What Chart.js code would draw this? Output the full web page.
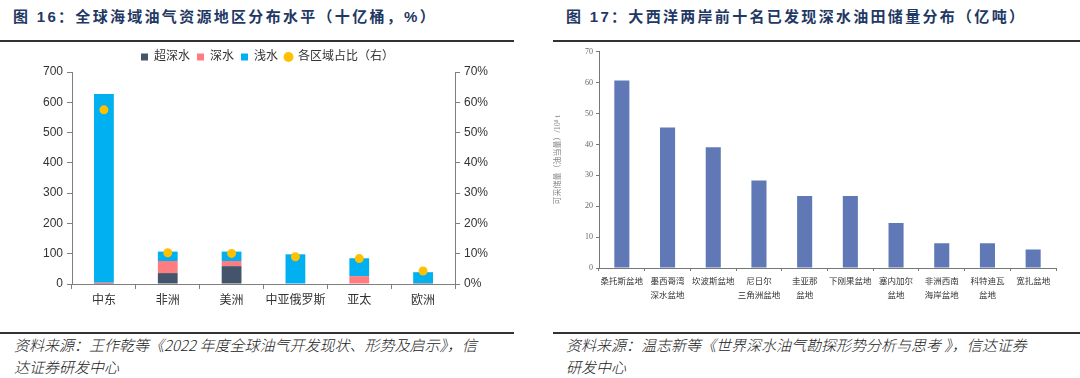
<!DOCTYPE html>
<html>
<head>
<meta charset="utf-8">
<script src="https://cdn.jsdelivr.net/npm/chart.js@4.4.1/dist/chart.umd.min.js"></script>
<style>
  html, body { margin: 0; padding: 0; background: #fff; }
  body { width: 1080px; height: 378px; position: relative; overflow: hidden;
         font-family: "Liberation Sans", "Noto Sans CJK SC", sans-serif; }
  .title { position: absolute; top: 6px; font-size: 15px; font-weight: bold; color: #1F3864;
           letter-spacing: 2.3px; white-space: nowrap; line-height: 22px; }
  .rule { position: absolute; height: 2px; background: #333; }
  .src { position: absolute; font-size: 15px; font-style: italic; color: #222; line-height: 22px;
         white-space: nowrap; font-family: "Noto Sans CJK SC", "Liberation Sans", sans-serif; font-weight: 300; }
  canvas { position: absolute; }
</style>
</head>
<body>
<div class="title" style="left:13px;">图 16：全球海域油气资源地区分布水平（十亿桶，%）</div>
<div class="title" style="left:566px;">图 17：大西洋两岸前十名已发现深水油田储量分布（亿吨）</div>
<div class="rule" style="left:0; width:514px; top:40px;"></div>
<div class="rule" style="left:553px; width:527px; top:40px;"></div>
<div class="rule" style="left:0; width:514px; top:332px;"></div>
<div class="rule" style="left:553px; width:527px; top:332px;"></div>
<div class="src" style="left:14px; top:334px;">资料来源：王作乾等《2022 年度全球油气开发现状、形势及启示》，信</div>
<div class="src" style="left:14px; top:356px;">达证券研发中心</div>
<div class="src" style="left:566px; top:334px;">资料来源：温志新等《世界深水油气勘探形势分析与思考 》，信达证券</div>
<div class="src" style="left:566px; top:356px;">研发中心</div>

<canvas id="c1" width="515" height="266" style="left:0; top:44px;"></canvas>
<canvas id="c2" width="527" height="262" style="left:553px; top:44px;"></canvas>

<script>
// ---- Figure 16 data ----
const regions = ['中东', '非洲', '美洲', '中亚俄罗斯', '亚太', '欧洲'];
const ultraDeep = [4, 36, 59, 0, 0, 3];
const deepWater = [2, 40, 17, 0, 26, 0];
const shallowWater = [621, 31, 31, 98, 59, 36];
const regionShare = [57.5, 10.3, 10.1, 9.0, 8.4, 4.3];
const leftTicks = [0, 100, 200, 300, 400, 500, 600, 700];
const rightTicks = [0, 10, 20, 30, 40, 50, 60, 70];

// ---- Figure 17 data ----
const basins = [
  '桑托斯盆地', ['墨西哥湾', '深水盆地'], '坎波斯盆地', ['尼日尔', '三角洲盆地'], ['圭亚那', '盆地'],
  '下刚果盆地', ['塞内加尔', '盆地'], ['非洲西南', '海岸盆地'], ['科特迪瓦', '盆地'], '宽扎盆地'
];
const reserves = [60.7, 45.5, 39.1, 28.3, 23.3, 23.3, 14.6, 8.0, 8.0, 6.0];

const SANS = '"Liberation Sans", "Noto Sans CJK SC", sans-serif';
const SERIF = '"Liberation Serif", "Noto Sans CJK SC", serif';

const legendTweak = {
  id: 'legendTweak',
  beforeInit(chart) {
    if (!chart.legend) return;
    const origFit = chart.legend.fit;
    chart.legend.fit = function () { origFit.call(this); this.height = 28; };
    const origDraw = chart.legend.draw;
    chart.legend.draw = function () {
      const c = this.ctx; c.save(); c.translate(10, 0); origDraw.call(this); c.restore();
    };
  }
};

new Chart(document.getElementById('c1'), {
  data: {
    labels: regions,
    datasets: [
      { type: 'bar', label: '超深水', data: ultraDeep, backgroundColor: '#44546A', stack: 's',
        pointStyle: 'rect', order: 1 },
      { type: 'bar', label: '深水', data: deepWater, backgroundColor: '#FF7C80', stack: 's',
        pointStyle: 'rect', order: 1 },
      { type: 'bar', label: '浅水', data: shallowWater, backgroundColor: '#00B0F0', stack: 's',
        pointStyle: 'rect', order: 1 },
      { type: 'line', label: '各区域占比（右）', data: regionShare, yAxisID: 'y1', showLine: false,
        pointStyle: 'circle', pointRadius: 4.5, backgroundColor: '#FFC000', borderColor: '#FFC000',
        pointBorderWidth: 0, order: 0 }
    ]
  },
  options: {
    responsive: false, animation: false, devicePixelRatio: 1,
    layout: { padding: { top: 0, left: 0, right: 0, bottom: 0 } },
    datasets: { bar: { barPercentage: 0.31, categoryPercentage: 1 } },
    plugins: {
      tooltip: { enabled: false },
      legend: {
        position: 'top',
        labels: {
          usePointStyle: true, boxWidth: 7, boxHeight: 7, padding: 7,
          color: '#333', font: { size: 12, family: SANS },
          sort: (a, b) => a.datasetIndex - b.datasetIndex
        }
      }
    },
    scales: {
      x: {
        stacked: true,
        grid: { drawOnChartArea: false, drawTicks: true, tickLength: 5, color: '#7f7f7f', offset: true },
        border: { color: '#7f7f7f', width: 1 },
        ticks: { color: '#333', font: { size: 12, family: SANS }, padding: 4, maxRotation: 0, autoSkip: false },
        afterFit: s => { s.height = 26; }
      },
      y: {
        stacked: true, min: 0, max: 700,
        afterBuildTicks: s => { s.ticks = leftTicks.map(v => ({ value: v })); },
        grid: { drawOnChartArea: false, drawTicks: true, tickLength: 5, color: '#7f7f7f' },
        border: { color: '#7f7f7f', width: 1 },
        ticks: { color: '#333', font: { size: 12, family: SANS }, padding: 4 },
        afterFit: s => { s.width = 72; }
      },
      y1: {
        position: 'right', min: 0, max: 70,
        afterBuildTicks: s => { s.ticks = rightTicks.map(v => ({ value: v })); },
        grid: { drawOnChartArea: false, drawTicks: true, tickLength: 5, color: '#7f7f7f' },
        border: { color: '#7f7f7f', width: 1 },
        ticks: { color: '#333', font: { size: 12, family: SANS }, padding: 4, callback: v => v + '%' },
        afterFit: s => { s.width = 60; }
      }
    }
  },
  plugins: [legendTweak]
});

new Chart(document.getElementById('c2'), {
  type: 'bar',
  data: {
    labels: basins,
    datasets: [{ label: '可采储量', data: reserves, backgroundColor: '#6079B6',
                 barPercentage: 0.33, categoryPercentage: 1 }]
  },
  options: {
    responsive: false, animation: false, devicePixelRatio: 1,
    layout: { padding: { top: 6, left: 0, right: 24, bottom: 0 } },
    plugins: { legend: { display: false }, tooltip: { enabled: false } },
    scales: {
      x: {
        grid: { drawOnChartArea: false, drawTicks: true, tickLength: 3, color: '#777', offset: true },
        border: { color: '#777', width: 1 },
        ticks: { color: '#333', font: { size: 8.5, family: SERIF, lineHeight: 1.6 }, padding: 4,
                 maxRotation: 0, minRotation: 0, autoSkip: false },
        afterFit: s => { s.height = 38; }
      },
      y: {
        min: 0, max: 70,
        ticks: { stepSize: 10, color: '#666', font: { size: 8, family: SERIF }, padding: 3 },
        grid: { drawOnChartArea: false, drawTicks: true, tickLength: 3, color: '#777' },
        border: { color: '#777', width: 1 },
        title: { display: true, text: '可采储量（油当量）/10⁸ t', color: '#888',
                 font: { size: 8, family: SERIF }, padding: { top: 0, bottom: 4 } },
        afterFit: s => { s.width = 46; }
      }
    }
  }
});
</script>
</body>
</html>
